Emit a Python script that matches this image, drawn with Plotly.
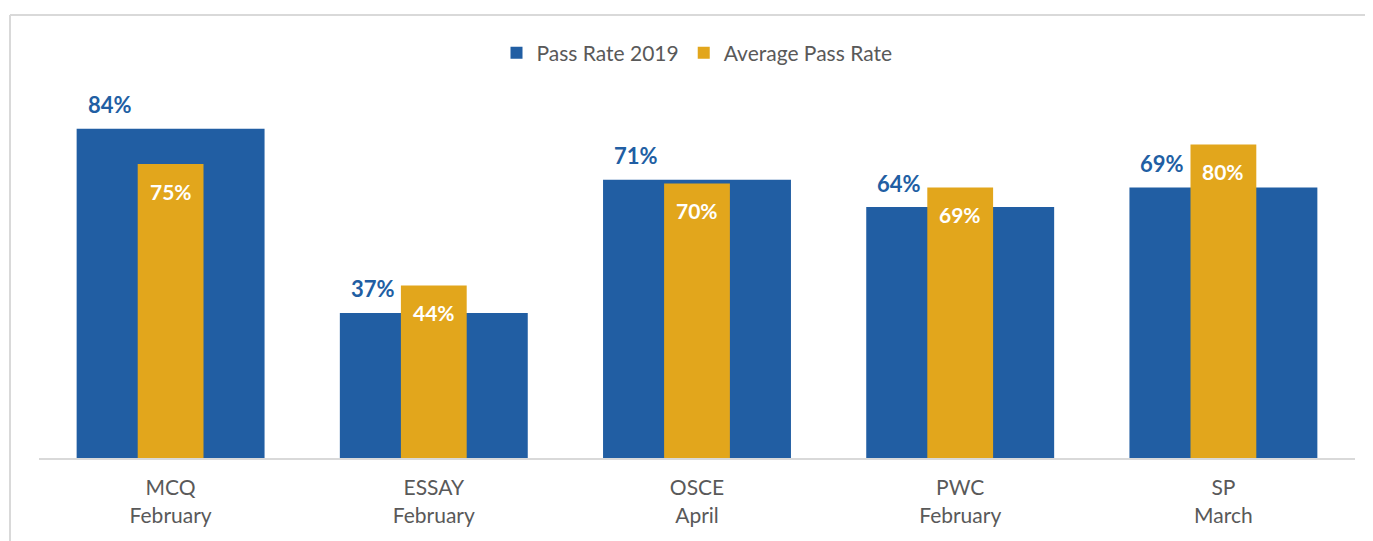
import plotly.graph_objects as go

categories = ["MCQ<br>February", "ESSAY<br>February", "OSCE<br>April", "PWC<br>February", "SP<br>March"]
pass_rate_2019 = [84, 37, 71, 64, 69]
average_pass_rate = [75, 44, 70, 69, 80]

BLUE = "#215EA3"
ORANGE = "#E2A61C"
FONT = "Lato"

fig = go.Figure()
fig.add_trace(go.Bar(x=categories, y=pass_rate_2019, name="Pass Rate 2019",
                     marker=dict(color=BLUE, line=dict(width=0)), width=0.714))
fig.add_trace(go.Bar(x=categories, y=average_pass_rate, name="Average Pass Rate",
                     marker=dict(color=ORANGE, line=dict(width=0)), width=0.25))

annotations = []
for c, v in zip(categories, pass_rate_2019):
    annotations.append(dict(x=c, y=v, xref="x", yref="y", text=f"<b>{v}%</b>",
                            showarrow=False, xshift=-61, yshift=24,
                            font=dict(family=FONT, size=22, color=BLUE)))
for c, v in zip(categories, average_pass_rate):
    annotations.append(dict(x=c, y=v, xref="x", yref="y", text=f"<b>{v}%</b>",
                            showarrow=False, yshift=-27,
                            font=dict(family=FONT, size=21, color="white")))

x_left = (10 - 39) / 1316
y_top = (458 - 15) / 392
border = dict(color="#d9d9d9", width=2)

fig.update_layout(
    width=1373, height=541,
    margin=dict(l=31, r=26, t=58, b=91),
    barmode="overlay",
    plot_bgcolor="white", paper_bgcolor="white",
    font=dict(family=FONT, size=21, color="#595959"),
    legend=dict(orientation="h", x=0.5, xanchor="center", y=1.033, yanchor="middle",
                font=dict(family=FONT, size=21, color="#595959"), traceorder="normal",
                itemwidth=30),
    xaxis=dict(showline=True, linecolor="#d9d9d9", linewidth=2, ticks="",
               ticklabelstandoff=10,
               tickfont=dict(family=FONT, size=21, color="#595959"), showgrid=False),
    yaxis=dict(range=[0, 100], visible=False, showgrid=False),
    annotations=annotations,
    shapes=[
        dict(type="line", xref="paper", yref="paper", x0=x_left, x1=1.3, y0=y_top, y1=y_top,
             line=border, layer="below"),
        dict(type="line", xref="paper", yref="paper", x0=x_left, x1=x_left, y0=-0.4, y1=y_top,
             line=border, layer="below"),
    ],
)

fig.write_html("out.html")
